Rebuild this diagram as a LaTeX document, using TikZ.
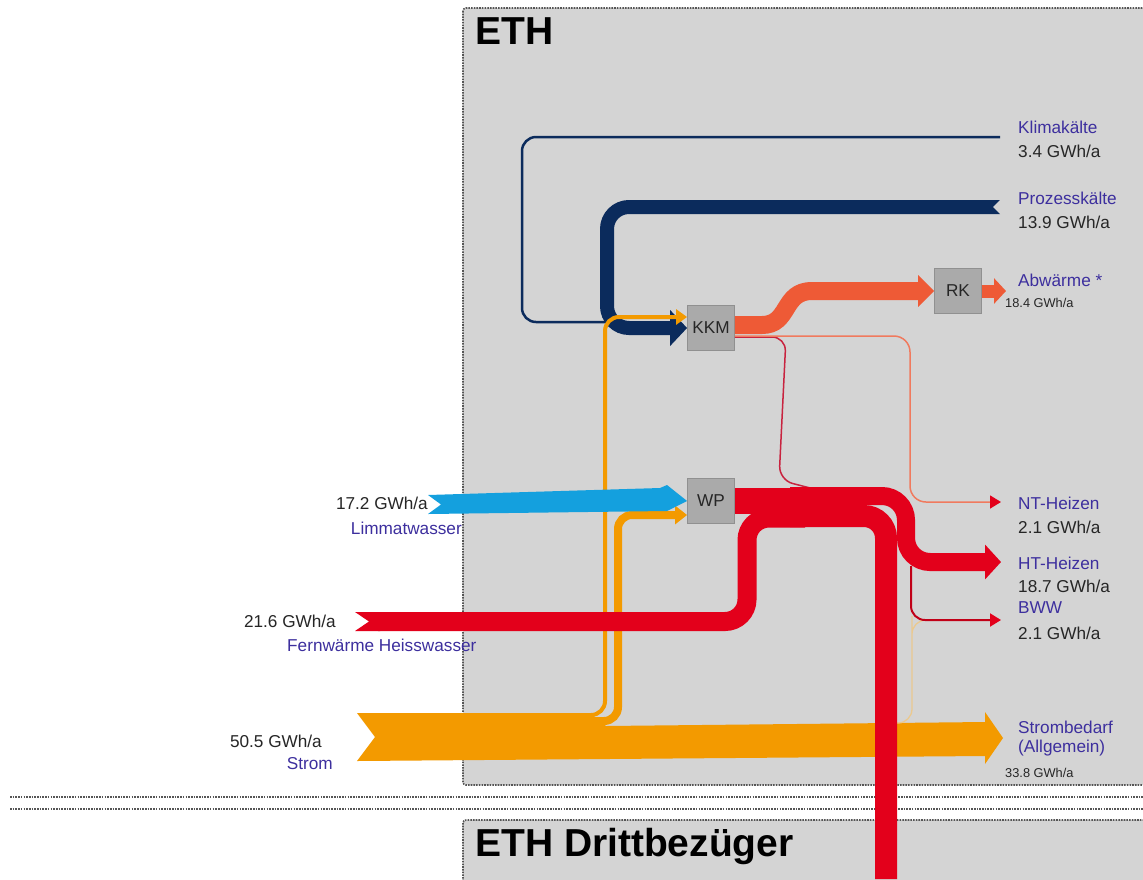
\documentclass[tikz,border=0pt]{standalone}
\usepackage{fontspec}
\setmainfont{Liberation Sans}
\usepackage{xcolor}
\usepackage{tikz}
\usetikzlibrary{arrows.meta,positioning,calc}
\definecolor{panel}{HTML}{D4D4D4}
\definecolor{frame}{HTML}{555555}
\definecolor{navy}{HTML}{0B2B5C}
\definecolor{strom}{HTML}{F39A00}
\definecolor{limmat}{HTML}{14A0DE}
\definecolor{heat}{HTML}{E3001B}
\definecolor{waste}{HTML}{EE5A36}
\definecolor{lowheat}{HTML}{F07A5E}
\definecolor{crimson}{HTML}{C8233F}
\definecolor{pale}{HTML}{EBC98F}
\definecolor{unit}{HTML}{AAAAAA}
\definecolor{lbl}{HTML}{3D2F9E}
\definecolor{val}{HTML}{262626}

\begin{document}
\begin{tikzpicture}[x=1pt, y=-1pt,
  font=\fontsize{17.2}{19}\selectfont,
  zone/.style={draw=frame, fill=panel, line width=1.6pt, dash pattern=on 1.6pt off 1.1pt, rounded corners=3pt},
  sepline/.style={draw=frame, line width=1.8pt, dash pattern=on 1.6pt off 1.1pt},
  heading/.style={anchor=north west, inner sep=0pt, font=\fontsize{39}{42}\selectfont\bfseries},
  plant/.style={draw=unit!85!black, fill=unit, line width=0.8pt, minimum width=47pt, minimum height=45pt, inner sep=0pt, text=val},
  flowname/.style={text=lbl, anchor=west, inner sep=0pt},
  amount/.style={text=val, anchor=west, inner sep=0pt},
  smallamount/.style={text=val, anchor=west, inner sep=0pt, font=\fontsize{12.8}{14}\selectfont},
  band/.style={line width=#1, rounded corners=22pt},
  strand/.style={line width=#1, rounded corners=14pt}
]
\fill[white] (0,0) rectangle (1143,879);
\useasboundingbox (0,0) rectangle (1143,879);
\draw[zone] (463,8) rectangle (1170,785);
\draw[zone] (463,820) rectangle (1170,900);
\draw[sepline] (10,797) -- (1143,797);
\draw[sepline] (10,809) -- (1143,809);
\node[heading] (eth) at (475,17) {ETH};
\node[heading] (dritt) at (475,828) {ETH Drittbezüger};

\node[plant] (kkm) at (711,328) {KKM};
\node[plant] (wp) at (711,501) {WP};
\node[plant] (rk) at (958,291) {RK};

\coordinate (klima) at (1000,137);
\coordinate (prozess) at (1000,207);
\coordinate (abw) at (1006,291);
\coordinate (ntend) at (1001,502);
\coordinate (htend) at (1001,562);
\coordinate (bwwend) at (1001,620);
\coordinate (stromend) at (1003,738);
\coordinate (drittend) at (886,879);

\draw[navy, strand=2.5pt] (klima) -- (522,137) |- (625,322);
\draw[navy, band=14pt, -{Triangle[length=17pt,width=35pt]}] (prozess) -- (607,207) |- (kkm.west);
\fill[panel] (1001,199) -- (993,207) -- (1001,215) -- cycle;

\fill[strom] (357,713) -- (590,713) -- (606,726) -- (985,722) -- (985,712) -- (stromend) -- (985,764) -- (985,756) -- (357,761) -- (375,737) -- cycle;
\draw[strom, strand=4pt, -{Triangle[length=11pt,width=15pt]}] (450,715) -- (605,715) |- ($(kkm.west)+(0,-11)$);
\draw[strom, strand=8pt, -{Triangle[length=12pt,width=18pt]}] (450,721) -- (618,721) |- ($(wp.west)+(0,14)$);
\draw[pale, strand=1.3pt] (896,723) -| (912,630) |- (945,620);

\fill[limmat] (428,495) -- (660,488) -- (667,485) -- (wp.west) -- (667,511) -- (428,514) -- (441,504.5) -- cycle;

\fill[heat] (355,612) -- (380,612) -- (380,631) -- (355,631) -- (369,621.5) -- cycle;
\draw[heat, band=19pt] (378,621.5) -- (747,621.5) |- (805,518);
\draw[heat, line width=26pt] (wp.east) -- (810,501);
\draw[crimson, strand=1.5pt] ($(kkm.east)+(0,9)$) -- (786,337) -- (779,480) -- (818,490);
\draw[heat, band=18pt, rounded corners=24pt, -{Triangle[length=16pt,width=34pt]}] (790,496) -| (906,562) -- (htend);
\draw[heat, band=22pt] (790,516) -| (drittend);
\draw[heat!85!black, strand=2pt, -{Triangle[length=11pt,width=13pt,color=heat]}] (911,566) |- (bwwend);

\draw[waste, line width=18pt, -{Triangle[length=16pt,width=31pt]}] ($(kkm.east)+(0,-3)$) -- (762,325) .. controls (790,325) and (782,291) .. (812,291) -- (rk.west);
\draw[waste, line width=13pt, -{Triangle[length=12pt,width=25pt]}] (rk.east) -- (abw);
\draw[lowheat, strand=1.5pt, rounded corners=16pt, -{Triangle[length=11pt,width=13pt,color=heat]}] ($(kkm.east)+(0,8)$) -- (910,336) |- (ntend);

\node[flowname] (klimalbl) at (1018,127) {Klimakälte};
\node[amount] at (1018,151) {3.4 GWh/a};
\node[flowname] (prozesslbl) at (1018,198) {Prozesskälte};
\node[amount] at (1018,222) {13.9 GWh/a};
\node[flowname] (abwlbl) at (1018,280) {Abwärme *};
\node[smallamount] at (1005,303) {18.4 GWh/a};
\node[flowname] (ntlbl) at (1018,503) {NT-Heizen};
\node[amount] at (1018,527) {2.1 GWh/a};
\node[flowname] (htlbl) at (1018,563) {HT-Heizen};
\node[amount] at (1018,586) {18.7 GWh/a};
\node[flowname] (bwwlbl) at (1018,608) {BWW};
\node[amount] at (1018,633) {2.1 GWh/a};
\node[flowname] (bedarflbl) at (1018,727) {Strombedarf};
\node[flowname] at (1018,748) {(Allgemein)};
\node[smallamount] at (1005,773) {33.8 GWh/a};

\node[amount, anchor=east] at (428,503) {17.2 GWh/a};
\node[flowname, anchor=east] (limmatlbl) at (462,528) {Limmatwasser};
\node[amount, anchor=east] at (336,621) {21.6 GWh/a};
\node[flowname] (fernlbl) at (287,645) {Fernwärme Heisswasser};
\node[amount, anchor=east] at (322,741) {50.5 GWh/a};
\node[flowname, anchor=east] (stromlbl) at (333,764) {Strom};
\end{tikzpicture}
\end{document}
